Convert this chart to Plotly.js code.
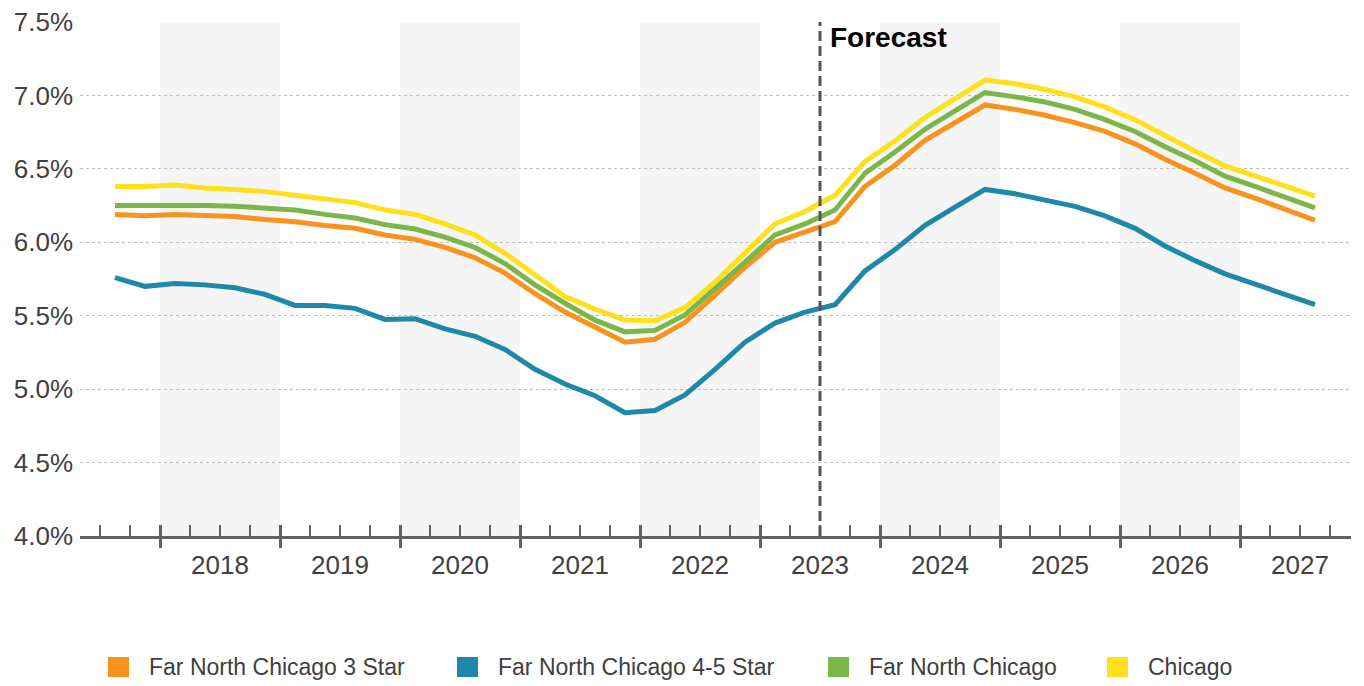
<!DOCTYPE html>
<html>
<head>
<meta charset="utf-8">
<script src="https://cdn.plot.ly/plotly-3.0.1.min.js"></script>
<style>
  html, body { margin: 0; padding: 0; background: #ffffff; }
  #chart { width: 1364px; height: 686px; }
</style>
</head>
<body>
<div id="chart"></div>
<script>
// Quarterly periods shown on the x axis
const periods = [
  '2017 Q3', '2017 Q4',
  '2018 Q1', '2018 Q2', '2018 Q3', '2018 Q4',
  '2019 Q1', '2019 Q2', '2019 Q3', '2019 Q4',
  '2020 Q1', '2020 Q2', '2020 Q3', '2020 Q4',
  '2021 Q1', '2021 Q2', '2021 Q3', '2021 Q4',
  '2022 Q1', '2022 Q2', '2022 Q3', '2022 Q4',
  '2023 Q1', '2023 Q2', '2023 Q3', '2023 Q4',
  '2024 Q1', '2024 Q2', '2024 Q3', '2024 Q4',
  '2025 Q1', '2025 Q2', '2025 Q3', '2025 Q4',
  '2026 Q1', '2026 Q2', '2026 Q3', '2026 Q4',
  '2027 Q1', '2027 Q2', '2027 Q3'
];

// Rates in percent, one value per period
const farNorth3Star = [
  6.19, 6.18, 6.19, 6.185, 6.175, 6.155, 6.14, 6.115, 6.095, 6.05,
  6.02, 5.965, 5.895, 5.79, 5.65, 5.525, 5.42, 5.32, 5.34, 5.455,
  5.64, 5.83, 6.0, 6.07, 6.14, 6.38, 6.525, 6.695, 6.815, 6.935,
  6.905, 6.865, 6.815, 6.755, 6.67, 6.565, 6.47, 6.37, 6.3, 6.225, 6.15
];
const farNorth45Star = [
  5.76, 5.70, 5.72, 5.71, 5.69, 5.645, 5.57, 5.57, 5.55, 5.475,
  5.48, 5.41, 5.36, 5.27, 5.135, 5.035, 4.955, 4.84, 4.855, 4.96,
  5.135, 5.32, 5.45, 5.525, 5.575, 5.805, 5.95, 6.115, 6.24, 6.36,
  6.33, 6.29, 6.245, 6.18, 6.095, 5.975, 5.875, 5.785, 5.715, 5.645, 5.575
];
const farNorthAll = [
  6.25, 6.25, 6.255, 6.25, 6.245, 6.235, 6.22, 6.19, 6.165, 6.12,
  6.09, 6.035, 5.965, 5.855, 5.71, 5.585, 5.47, 5.39, 5.40, 5.505,
  5.68, 5.865, 6.05, 6.125, 6.22, 6.47, 6.615, 6.77, 6.895, 7.02,
  6.99, 6.955, 6.905, 6.835, 6.755, 6.65, 6.555, 6.45, 6.38, 6.305, 6.235
];
const chicago = [
  6.38, 6.38, 6.39, 6.37, 6.36, 6.345, 6.32, 6.295, 6.27, 6.22,
  6.19, 6.125, 6.05, 5.925, 5.775, 5.63, 5.545, 5.47, 5.465, 5.555,
  5.73, 5.925, 6.125, 6.21, 6.32, 6.55, 6.69, 6.85, 6.975, 7.105,
  7.08, 7.04, 6.99, 6.92, 6.835, 6.725, 6.62, 6.52, 6.45, 6.385, 6.315
];

const seriesNames = ['Far North Chicago 3 Star', 'Far North Chicago 4-5 Star', 'Far North Chicago', 'Chicago'];
const seriesValues = [farNorth3Star, farNorth45Star, farNorthAll, chicago];
const seriesColors = ['#F7931E', '#1F87A7', '#7AB648', '#FFE01A'];

const yearLabels = ['2018', '2019', '2020', '2021', '2022', '2023', '2024', '2025', '2026', '2027'];
const shadedYears = ['2018', '2020', '2022', '2024', '2026'];
const forecastStart = '2023 Q3';
const forecastLabel = 'Forecast';

// Position helpers on a continuous year scale
function quarterMid(p) {
  const parts = p.split(' Q');
  return Number(parts[0]) + (Number(parts[1]) - 0.5) / 4;
}
function quarterStart(p) {
  const parts = p.split(' Q');
  return Number(parts[0]) + (Number(parts[1]) - 1) / 4;
}

const xPos = periods.map(quarterMid);
const firstYear = Number(yearLabels[0]);
const lastYear = Number(yearLabels[yearLabels.length - 1]);
const xRange = [firstYear - 2 / 3, lastYear + 0.925];
const yearBounds = yearLabels.map(Number);
const yearCenters = yearBounds.map(y => y + 0.5);

const FONT = 'Arial, "Liberation Sans", sans-serif';
const AXIS_GREY = '#616161';
const TEXT_GREY = '#404040';

const traces = seriesNames.map((name, i) => ({
  type: 'scatter',
  mode: 'lines',
  name: name,
  x: xPos,
  y: seriesValues[i],
  line: { color: seriesColors[i], width: 5 },
  showlegend: false,
  hoverinfo: 'skip'
}));

// Empty carriers so the tick-only axes get drawn
['x2', 'x3', 'x4'].forEach(ax => traces.push({
  type: 'scatter', mode: 'lines', x: [], y: [],
  xaxis: ax, yaxis: 'y', showlegend: false, hoverinfo: 'skip'
}));

// Alternating year bands
const shapes = shadedYears.map(y => ({
  type: 'rect', xref: 'x', yref: 'paper',
  x0: Number(y), x1: Number(y) + 1, y0: 0, y1: 1,
  fillcolor: '#f5f5f5', line: { width: 0 }, layer: 'below'
}));

// Forecast divider
shapes.push({
  type: 'line', xref: 'x', yref: 'paper',
  x0: quarterStart(forecastStart), x1: quarterStart(forecastStart), y0: 0, y1: 1,
  line: { color: '#555555', width: 3, dash: '10px,5px' }, layer: 'above'
});

// Legend: coloured squares with their labels below the axis
const legendSquareLeft = [108, 457, 828, 1107];
const plotLeft = 80, plotWidth = 1271, plotTop = 22, plotHeight = 514;
const legendY = 667;
const toPx = px => (px - plotLeft) / plotWidth;
const toPy = py => (plotTop + plotHeight - py) / plotHeight;

const annotations = [{
  xref: 'x', yref: 'paper',
  x: quarterStart(forecastStart), y: 1,
  xanchor: 'left', yanchor: 'top', xshift: 8, yshift: 2,
  text: '<b>' + forecastLabel + '</b>',
  showarrow: false,
  font: { family: FONT, size: 28, color: '#000000' }
}];

seriesNames.forEach((name, i) => {
  const left = legendSquareLeft[i];
  shapes.push({
    type: 'rect', xref: 'paper', yref: 'paper',
    x0: toPx(left), x1: toPx(left + 21),
    y0: toPy(legendY + 10), y1: toPy(legendY - 10),
    fillcolor: seriesColors[i], line: { width: 0 }
  });
  annotations.push({
    xref: 'paper', yref: 'paper',
    x: toPx(left + 39), y: toPy(legendY),
    xanchor: 'left', yanchor: 'middle',
    text: name, showarrow: false,
    font: { family: FONT, size: 23, color: TEXT_GREY }
  });
});

const hiddenTicks = {
  overlaying: 'x', anchor: 'y', side: 'bottom',
  range: xRange, showgrid: false, zeroline: false, showline: false,
  showticklabels: false, tickcolor: AXIS_GREY, fixedrange: true
};

const layout = {
  width: 1364, height: 686,
  margin: { l: plotLeft, r: 1364 - plotLeft - plotWidth, t: plotTop, b: 686 - plotTop - plotHeight, pad: 0 },
  paper_bgcolor: '#ffffff',
  plot_bgcolor: '#ffffff',
  font: { family: FONT, color: TEXT_GREY },
  showlegend: false,
  xaxis: {
    range: xRange, fixedrange: true,
    tickmode: 'array', tickvals: yearCenters, ticktext: yearLabels,
    ticks: 'outside', ticklen: 4, tickcolor: 'rgba(0,0,0,0)',
    tickfont: { family: FONT, size: 26, color: TEXT_GREY },
    showgrid: false, zeroline: false,
    showline: true, linecolor: AXIS_GREY, linewidth: 3
  },
  // quarter ticks
  xaxis2: Object.assign({}, hiddenTicks, {
    tickmode: 'linear', tick0: 2017.5, dtick: 0.25,
    ticks: 'inside', ticklen: 11, tickwidth: 2
  }),
  // year boundary ticks, upper half
  xaxis3: Object.assign({}, hiddenTicks, {
    tickmode: 'array', tickvals: yearBounds,
    ticks: 'inside', ticklen: 11, tickwidth: 3
  }),
  // year boundary ticks, lower half
  xaxis4: Object.assign({}, hiddenTicks, {
    tickmode: 'array', tickvals: yearBounds,
    ticks: 'outside', ticklen: 11, tickwidth: 3
  }),
  yaxis: {
    range: [4.0, 7.5], fixedrange: true,
    tickmode: 'linear', tick0: 4.0, dtick: 0.5,
    tickformat: '.1f', ticksuffix: '%',
    ticks: '', ticklabelstandoff: 6,
    tickfont: { family: FONT, size: 26, color: TEXT_GREY },
    showgrid: true, gridcolor: '#bdbdbd', gridwidth: 1, griddash: 'dot',
    zeroline: false, showline: false
  },
  shapes: shapes,
  annotations: annotations
};

Plotly.newPlot('chart', traces, layout, { displayModeBar: false, staticPlot: true });
</script>
</body>
</html>
